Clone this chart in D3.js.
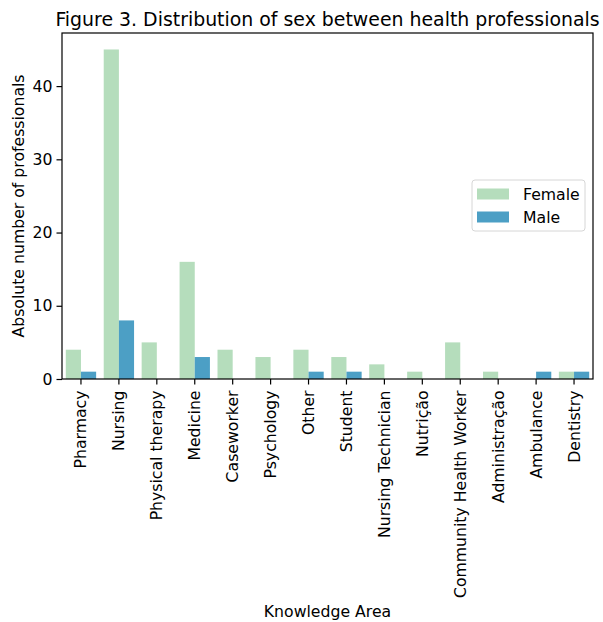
<!DOCTYPE html>
<html>
<head>
<meta charset="utf-8">
<script src="https://cdn.jsdelivr.net/npm/d3@7"></script>
<style>
html,body{margin:0;padding:0;background:#fff;}
svg{display:block;font-family:"DejaVu Sans",sans-serif;}
</style>
</head>
<body>
<svg id="chart" width="603" height="622"></svg>
<script>
const categories = ["Pharmacy","Nursing","Physical therapy","Medicine","Caseworker","Psychology","Other","Student","Nursing Technician","Nutrição","Community Health Worker","Administração","Ambulance","Dentistry"];
const seriesNames = ["Female","Male"];
const femaleValues = [4,45,5,16,4,3,4,3,2,1,5,1,0,1];
const maleValues = [1,8,0,3,0,0,1,1,0,0,0,0,1,1];
const yTicks = [0,10,20,30,40];
const colors = ["#b5ddbc","#4c9fc5"];

const FS = 15.7;
const svg = d3.select("#chart");
const m = {left:62, right:593, top:33, bottom:379};

const x = d3.scaleBand().domain(categories).range([m.left, m.right]).paddingInner(0).paddingOuter(0);
const x1 = d3.scaleBand().domain(seriesNames).range([x.bandwidth()*0.1, x.bandwidth()*0.9]);
const maxV = d3.max(femaleValues.concat(maleValues));
const y = d3.scaleLinear().domain([0, maxV*1.05]).range([m.bottom, m.top]);

const series = [femaleValues, maleValues];
series.forEach((vals, si) => {
  svg.append("g").selectAll("rect").data(vals).join("rect")
    .attr("x", (d,i) => x(categories[i]) + x1(seriesNames[si]))
    .attr("width", x1.bandwidth())
    .attr("y", d => y(d))
    .attr("height", d => y(0) - y(d))
    .attr("fill", colors[si]);
});

// axes
const yAxis = d3.axisLeft(y).tickValues(yTicks).tickSize(5.5).tickPadding(4);
const gy = svg.append("g").attr("transform", `translate(${m.left},0)`).call(yAxis);
gy.select(".domain").remove();
gy.selectAll("text").attr("font-size", FS).attr("fill", "#000").attr("font-family","DejaVu Sans");
gy.selectAll("line").attr("stroke", "#000").attr("stroke-width", 1.2);

const xAxis = d3.axisBottom(x).tickSize(5.5).tickPadding(4);
const gx = svg.append("g").attr("transform", `translate(0,${m.bottom})`).call(xAxis);
gx.select(".domain").remove();
gx.selectAll("line").attr("stroke", "#000").attr("stroke-width", 1.2);
gx.selectAll("text")
  .attr("font-size", FS).attr("fill", "#000").attr("font-family","DejaVu Sans")
  .attr("transform", "rotate(-90)")
  .attr("text-anchor", "end")
  .attr("x", -11.5).attr("y", 0).attr("dy", "0.35em");

// frame
svg.append("rect").attr("x", m.left).attr("y", m.top)
  .attr("width", m.right - m.left).attr("height", m.bottom - m.top)
  .attr("fill", "none").attr("stroke", "#000").attr("stroke-width", 1.2);

// title
svg.append("text").attr("x", (m.left+m.right)/2).attr("y", 26)
  .attr("text-anchor", "middle").attr("font-size", 18.9).attr("fill", "#000")
  .text("Figure 3. Distribution of sex between health professionals");

// axis labels
svg.append("text").attr("x", (m.left+m.right)/2).attr("y", 617)
  .attr("text-anchor", "middle").attr("font-size", FS).attr("fill", "#000")
  .text("Knowledge Area");
svg.append("text").attr("transform", `translate(24,${(m.top+m.bottom)/2}) rotate(-90)`)
  .attr("text-anchor", "middle").attr("font-size", FS).attr("fill", "#000")
  .text("Absolute number of professionals");

// legend
const lg = svg.append("g");
lg.append("rect").attr("x", 472).attr("y", 180).attr("width", 113).attr("height", 51)
  .attr("rx", 3).attr("fill", "#fff").attr("fill-opacity", 0.8).attr("stroke", "#d6d6d6").attr("stroke-width", 1);
seriesNames.forEach((s, i) => {
  lg.append("rect").attr("x", 477).attr("y", 188.5 + i*23).attr("width", 32).attr("height", 11)
    .attr("fill", colors[i]);
  lg.append("text").attr("x", 523).attr("y", 194.5 + i*23).attr("dy", "0.35em")
    .attr("font-size", FS).attr("fill", "#000").text(s);
});
</script>
</body>
</html>
